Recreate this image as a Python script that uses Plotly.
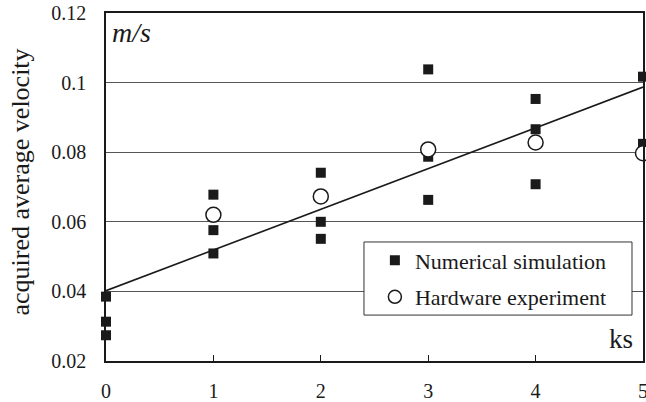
import plotly.graph_objects as go

# Data
sim_x = [0, 0, 0, 1, 1, 1, 2, 2, 2, 3, 3, 3, 4, 4, 4, 5, 5]
sim_y = [0.0385, 0.0313, 0.0274, 0.0678, 0.0576, 0.0509, 0.0741, 0.0600, 0.0551,
         0.1038, 0.0787, 0.0663, 0.0953, 0.0866, 0.0708, 0.1017, 0.0824]
hw_x = [1, 2, 3, 4, 5]
hw_y = [0.0620, 0.0673, 0.0808, 0.0828, 0.0797]
fit_x = [0, 5]
fit_y = [0.0402, 0.0987]
x_ticks = [0, 1, 2, 3, 4, 5]
y_ticks = [0.02, 0.04, 0.06, 0.08, 0.10, 0.12]
y_tick_labels = ["0.02", "0.04", "0.06", "0.08", "0.1", "0.12"]

FONT = "Liberation Serif"
INK = "#1a1a1a"

fig = go.Figure()
fig.add_trace(go.Scatter(x=fit_x, y=fit_y, mode="lines", line=dict(color=INK, width=1.6),
                         showlegend=False, hoverinfo="skip"))
fig.add_trace(go.Scatter(x=sim_x, y=sim_y, mode="markers", name="Numerical simulation",
                         marker=dict(symbol="square", size=10, color=INK), cliponaxis=False,
                         showlegend=False))
fig.add_trace(go.Scatter(x=hw_x, y=hw_y, mode="markers", name="Hardware experiment",
                         marker=dict(symbol="circle", size=15, color="white",
                                     line=dict(color=INK, width=1.5)), cliponaxis=False,
                         showlegend=False))
# legend entries
fig.add_trace(go.Scatter(x=[None], y=[None], mode="markers", name="Numerical simulation",
                         marker=dict(symbol="square", size=10, color=INK), legendgroup="a"))
fig.add_trace(go.Scatter(x=[None], y=[None], mode="markers", name="Hardware experiment",
                         marker=dict(symbol="circle", size=13, color="white",
                                     line=dict(color=INK, width=1.5)), legendgroup="b"))

fig.update_layout(
    width=646, height=402,
    margin=dict(l=106, r=3, t=13, b=41),
    paper_bgcolor="white", plot_bgcolor="white",
    font=dict(family=FONT, size=20, color=INK),
    legend=dict(x=0.5007, y=0.3494, xanchor="left", yanchor="top",
                bgcolor="rgba(0,0,0,0)", borderwidth=0,
                font=dict(family=FONT, size=22, color=INK), itemsizing="trace",
                traceorder="grouped", tracegroupgap=5),
    xaxis=dict(range=[0, 5], tickvals=x_ticks, ticks="inside", ticklen=6, tickcolor=INK,
               showgrid=False, zeroline=False, showline=True, linecolor=INK, linewidth=1.5,
               mirror=True, automargin=False, ticklabelstandoff=11, ticklabeloverflow="allow",
               tickfont=dict(family=FONT, size=20, color=INK)),
    yaxis=dict(range=[0.02, 0.12], tickvals=y_ticks, ticktext=y_tick_labels, ticks="",
               showgrid=True, gridcolor="#555", gridwidth=1, zeroline=False,
               showline=True, linecolor=INK, linewidth=1.5, mirror=True, automargin=False,
               ticklabelstandoff=14, ticklabeloverflow="allow",
               tickfont=dict(family=FONT, size=20, color=INK)),
    shapes=[dict(type="rect", xref="paper", yref="paper", x0=0.4804, x1=0.9795, y0=0.132, y1=0.342,
                 fillcolor="white", line=dict(color="#333", width=1), layer="above")],
)

fig.add_annotation(x=0, y=0.513, xref="paper", yref="paper", xanchor="center", yanchor="middle",
                   xshift=-86, text="acquired average velocity", textangle=-90, showarrow=False,
                   font=dict(family=FONT, size=26, color=INK))
fig.add_annotation(x=0, y=1, xref="paper", yref="paper", xanchor="left", yanchor="top",
                   xshift=4, yshift=-2, text="<i>m/s</i>", showarrow=False,
                   font=dict(family=FONT, size=28, color=INK))
fig.add_annotation(x=1, y=0, xref="paper", yref="paper", xanchor="right", yanchor="bottom",
                   xshift=-8, yshift=5, text="ks", showarrow=False,
                   font=dict(family=FONT, size=27, color=INK))

fig.write_html("out.html", config={"displayModeBar": False},
               post_script="document.body.style.margin='0';document.body.style.overflow='hidden';")
